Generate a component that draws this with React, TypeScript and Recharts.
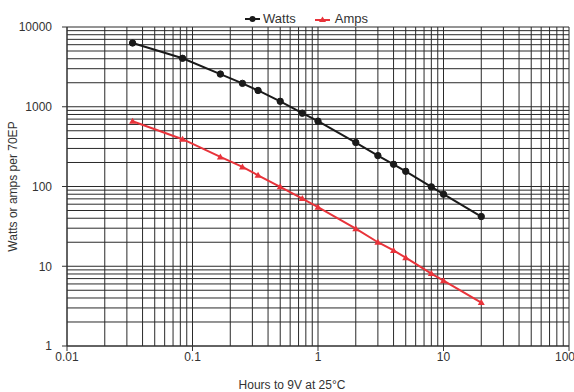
import React from "react";
import {
  LineChart,
  Line,
  XAxis,
  YAxis,
  ReferenceLine,
  Legend,
  Label,
} from "recharts";

// Discharge time (hours) and readings per 70EP
const hours = [0.0333, 0.0833, 0.1667, 0.25, 0.333, 0.5, 0.75, 1, 2, 3, 4, 5, 8, 10, 20];
const watts = [6300, 4050, 2570, 1965, 1600, 1170, 830, 660, 356, 244, 190, 155, 99, 80, 42];
const amps = [659, 392, 235, 176, 138, 99, 70.5, 55, 29.6, 20, 15.8, 12.8, 8.1, 6.6, 3.5];

const xTicks = [0.01, 0.1, 1, 10, 100];
const yTicks = [1, 10, 100, 1000, 10000];
const multipliers = [1, 2, 3, 4, 5, 6, 7, 8, 9];

const WATTS_COLOR = "#1a1a1a";
const AMPS_COLOR = "#e8333a";
const GRID_COLOR = "#2a2a2a";
const FONT = "'Liberation Sans', Arial, sans-serif";

// log grid: every 1..9 step inside each decade
const logGrid = (decades: number[]) => {
  const out: number[] = [];
  decades.slice(0, -1).forEach((d) => multipliers.forEach((m) => out.push(+(d * m).toPrecision(3))));
  out.push(decades[decades.length - 1]);
  return out;
};

const data = hours.map((h, i) => ({ hours: h, watts: watts[i], amps: amps[i] }));

const Triangle = (props: any) => {
  const { cx, cy } = props;
  if (cx == null || cy == null) return null;
  return (
    <path
      d={`M${cx},${cy - 3.5} L${cx + 3.5},${cy + 2.5} L${cx - 3.5},${cy + 2.5} Z`}
      fill={AMPS_COLOR}
    />
  );
};

const LegendContent = () => (
  <div style={{ display: "flex", alignItems: "center", fontFamily: FONT, fontSize: 13, color: "#333" }}>
    <svg width={15} height={10} style={{ marginRight: 3 }}>
      <line x1={0} y1={5} x2={15} y2={5} stroke={WATTS_COLOR} strokeWidth={2} />
      <circle cx={7.5} cy={5} r={3} fill={WATTS_COLOR} />
    </svg>
    <span style={{ marginRight: 19 }}>Watts</span>
    <svg width={15} height={10} style={{ marginRight: 5 }}>
      <line x1={0} y1={6} x2={15} y2={6} stroke={AMPS_COLOR} strokeWidth={2} />
      <path d="M7.5,2.5 L11,8 L4,8 Z" fill={AMPS_COLOR} />
    </svg>
    <span>Amps</span>
  </div>
);

export default function App() {
  const tickStyle = { fontFamily: FONT, fontSize: 12, fill: "#333" };
  return (
    <div style={{ position: "absolute", left: 0, top: 0, width: 574, height: 392 }}>
      <LineChart width={574} height={392} data={data} margin={{ top: 12, right: 5, bottom: 0, left: 0 }}>
        {logGrid(xTicks).map((v) => (
          <ReferenceLine key={`vx-${v}`} x={v} stroke={GRID_COLOR} strokeWidth={1} ifOverflow="extendDomain" />
        ))}
        {logGrid(yTicks).map((v) => (
          <ReferenceLine key={`hy-${v}`} y={v} stroke={GRID_COLOR} strokeWidth={1} ifOverflow="extendDomain" />
        ))}
        <XAxis
          dataKey="hours"
          type="number"
          scale="log"
          domain={[0.01, 100]}
          ticks={xTicks}
          allowDataOverflow
          tickSize={5}
          tickMargin={1}
          height={46}
          stroke="#333"
          tick={tickStyle}
          tickFormatter={(v) => String(v)}
        >
          <Label
            value="Hours to 9V at 25°C"
            position="insideBottom"
            offset={3}
            dx={-26}
            style={{ fontFamily: FONT, fontSize: 12, fill: "#333" }}
          />
        </XAxis>
        <YAxis
          type="number"
          scale="log"
          domain={[1, 10000]}
          ticks={yTicks}
          allowDataOverflow
          width={67}
          tickSize={5}
          tickMargin={10}
          stroke="#333"
          tick={tickStyle}
          tickFormatter={(v) => String(v)}
        >
          <Label
            value="Watts or amps per 70EP"
            angle={-90}
            position="insideLeft"
            offset={13}
            style={{ fontFamily: FONT, fontSize: 12, fill: "#333", textAnchor: "middle" }}
          />
        </YAxis>
        <Legend
          verticalAlign="top"
          content={<LegendContent />}
          wrapperStyle={{ top: 11, left: 245, width: "auto" }}
        />
        <Line
          type="linear"
          dataKey="watts"
          name="Watts"
          stroke={WATTS_COLOR}
          strokeWidth={2}
          dot={{ r: 3.2, fill: WATTS_COLOR, stroke: WATTS_COLOR, strokeWidth: 1 }}
          activeDot={false}
          isAnimationActive={false}
        />
        <Line
          type="linear"
          dataKey="amps"
          name="Amps"
          stroke={AMPS_COLOR}
          strokeWidth={2}
          dot={<Triangle />}
          activeDot={false}
          isAnimationActive={false}
        />
      </LineChart>
    </div>
  );
}
